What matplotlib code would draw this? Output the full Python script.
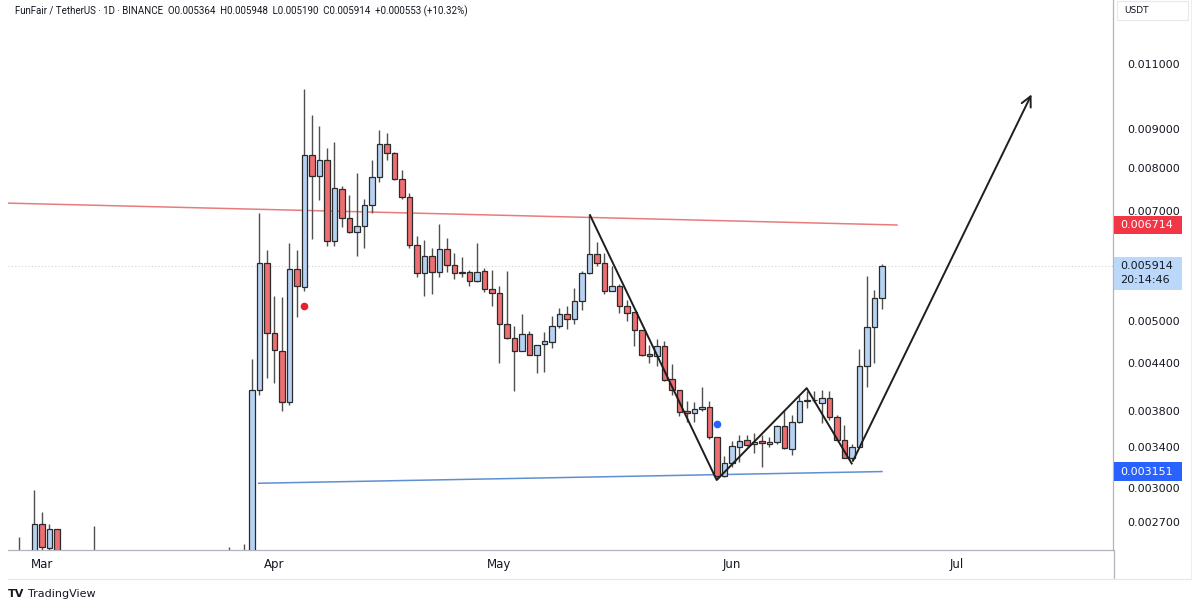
import matplotlib
matplotlib.use("Agg")
import matplotlib.pyplot as plt
from matplotlib.patches import Rectangle
from matplotlib.lines import Line2D
from matplotlib.ticker import NullLocator

# day index counted from 1 March (0 = Mar 1)
days = [-3, -1, 0, 1, 2, 7, 25, 27] + list(range(28, 113))

opens = [0.00230, 0.00220, 0.00268, 0.00249, 0.00264, 0.00220, 0.00220, 0.00225,
         # Mar 29 .. Apr 28
         0.00230, 0.00405, 0.00598, 0.00482, 0.00456, 0.00390, 0.00586, 0.00555,
         0.00833, 0.00780, 0.00820, 0.00640, 0.00750, 0.00687, 0.00657, 0.00670,
         0.00713, 0.00777, 0.00860, 0.00837, 0.00773, 0.00732, 0.00632, 0.00580,
         0.00610, 0.00582, 0.00624, 0.00594, 0.00581, 0.00581, 0.00565,
         # Apr 29 .. May 28
         0.00583, 0.00552, 0.00545, 0.00496, 0.00475, 0.00456, 0.00480, 0.00450,
         0.00466, 0.00469, 0.00493, 0.00511, 0.00503, 0.00532, 0.00579, 0.00615,
         0.00598, 0.00549, 0.00556, 0.00523, 0.00514, 0.00487, 0.00452, 0.00449,
         0.00463, 0.00418, 0.00405, 0.00380, 0.00377, 0.00382,
         # May 29 .. Jun 21
         0.00384, 0.00350, 0.00311, 0.00323, 0.00340, 0.00347, 0.00343, 0.00346,
         0.00343, 0.00345, 0.00362, 0.00338, 0.00367, 0.00391, 0.00393, 0.00389,
         0.00395, 0.00372, 0.00347, 0.00328, 0.00340, 0.00435, 0.00491, 0.005364]

highs = [0.00258, 0.00298, 0.00278, 0.00268, 0.00264, 0.00267, 0.00250, 0.00252,
         0.00445, 0.00697, 0.00621, 0.00540, 0.00538, 0.00635, 0.00622, 0.01020,
         0.00940, 0.00910, 0.00850, 0.00865, 0.00756, 0.00736, 0.00788, 0.00728,
         0.00820, 0.00899, 0.00890, 0.00840, 0.00795, 0.00740, 0.00650, 0.00642,
         0.00625, 0.00673, 0.00645, 0.00616, 0.00609, 0.00585, 0.00635,
         0.00588, 0.00584, 0.00556, 0.00583, 0.00492, 0.00511, 0.00485, 0.00465,
         0.00484, 0.00508, 0.00520, 0.00523, 0.00554, 0.00583, 0.00693, 0.00638,
         0.00616, 0.00592, 0.00560, 0.00534, 0.00514, 0.00487, 0.00465, 0.00473,
         0.00470, 0.00438, 0.00405, 0.00391, 0.00390, 0.00408,
         0.00391, 0.00350, 0.00330, 0.00346, 0.00352, 0.00352, 0.00355, 0.00352,
         0.00350, 0.00363, 0.00379, 0.00375, 0.00397, 0.00403, 0.00403, 0.00405,
         0.00404, 0.00375, 0.00364, 0.00343, 0.00459, 0.00574, 0.00550, 0.005948]

lows = [0.00210, 0.00210, 0.00240, 0.00240, 0.00230, 0.00200, 0.00210, 0.00210,
        0.00220, 0.00398, 0.00420, 0.00413, 0.00380, 0.00387, 0.00507, 0.00548,
        0.00643, 0.00724, 0.00630, 0.00630, 0.00668, 0.00656, 0.00610, 0.00625,
        0.00696, 0.00765, 0.00820, 0.00770, 0.00728, 0.00625, 0.00573, 0.00540,
        0.00544, 0.00573, 0.00582, 0.00569, 0.00573, 0.00556, 0.00563,
        0.00547, 0.00523, 0.00439, 0.00473, 0.00403, 0.00456, 0.00450, 0.00427,
        0.00428, 0.00460, 0.00490, 0.00488, 0.00496, 0.00518, 0.00577, 0.00592,
        0.00543, 0.00549, 0.00513, 0.00500, 0.00463, 0.00449, 0.00440, 0.00436,
        0.00416, 0.00398, 0.00374, 0.00367, 0.00367, 0.00379,
        0.00348, 0.00308, 0.00310, 0.00320, 0.00324, 0.00341, 0.00334, 0.00320,
        0.00340, 0.00343, 0.00338, 0.00332, 0.00366, 0.00383, 0.00390, 0.00366,
        0.00369, 0.00347, 0.00328, 0.00326, 0.00340, 0.00409, 0.00440, 0.005190]

closes = [0.00220, 0.00268, 0.00250, 0.00264, 0.00240, 0.00215, 0.00225, 0.00230,
          0.00405, 0.00598, 0.00482, 0.00457, 0.00390, 0.00586, 0.00556, 0.00833,
          0.00780, 0.00820, 0.00640, 0.00752, 0.00687, 0.00657, 0.00670, 0.00713,
          0.00777, 0.00860, 0.00837, 0.00773, 0.00732, 0.00632, 0.00580, 0.00610,
          0.00582, 0.00624, 0.00594, 0.00580, 0.00580, 0.00565, 0.00582,
          0.00552, 0.00545, 0.00496, 0.00475, 0.00456, 0.00480, 0.00450, 0.00465,
          0.00470, 0.00493, 0.00511, 0.00503, 0.00531, 0.00579, 0.00615, 0.00597,
          0.00549, 0.00556, 0.00523, 0.00513, 0.00486, 0.00451, 0.00449, 0.00463,
          0.00417, 0.00405, 0.00378, 0.00377, 0.00382, 0.00384,
          0.00350, 0.00311, 0.00323, 0.00341, 0.00346, 0.00342, 0.00345, 0.00344,
          0.00345, 0.00362, 0.00339, 0.00367, 0.00391, 0.00393, 0.00392, 0.00395,
          0.00372, 0.00347, 0.00328, 0.00340, 0.00435, 0.00491, 0.00536, 0.005914]

# drawings
resist_days = [-4.53, 114.0]
resist_prices = [0.00718, 0.006714]
support_days = [28.9, 112.0]
support_prices = [0.00304, 0.003151]
zigzag_days = [73.07, 89.96, 101.96, 107.96]
zigzag_prices = [0.00692, 0.00307, 0.00407, 0.00323]
target_day, target_price = 132.1, 0.0101
signal_days = [35, 90]
signal_prices = [0.00524, 0.00365]
signal_colors = ['#e8202a', '#2962ff']
last_price = 0.005914

month_days = [0, 31, 61, 92, 122]
month_labels = ['Mar', 'Apr', 'May', 'Jun', 'Jul']
price_ticks = [0.0027, 0.003, 0.0034, 0.0038, 0.0044, 0.005, 0.007, 0.008, 0.009, 0.011]

W, H = 1200, 608
fig = plt.figure(figsize=(W / 100, H / 100), dpi=100)
fig.patch.set_facecolor('white')
ax = fig.add_axes([8 / W, 58 / H, 1105 / W, 550 / H])
ax.set_yscale('log')
ax.set_xlim(-4.53, 142.8)
ax.set_ylim(0.002477, 0.01339)

up_face, down_face = '#b7d3f3', '#ee6e72'
edge = '#2b2b2b'
wick = '#505050'

# trend lines behind candles
ax.plot(resist_days, resist_prices, color='#e77c7c', lw=1.1, zorder=1)
ax.plot(support_days, support_prices, color='#5f8fd3', lw=1.1, zorder=1)
ax.axhline(last_price, color='#cfd3da', lw=0.8, ls=(0, (1, 2)), zorder=0.5)

for d, o, h, l, c in zip(days, opens, highs, lows, closes):
    face = up_face if c >= o else down_face
    ax.vlines(d, l, h, color=wick, lw=1.0, zorder=2)
    lo, hi = min(o, c), max(o, c)
    if hi - lo < 1e-6:
        hi = lo * 1.002
    ax.bar(d, hi - lo, bottom=lo, width=0.7, color=face, edgecolor=edge,
           linewidth=0.9, zorder=3)

for d, p, col in zip(signal_days, signal_prices, signal_colors):
    ax.plot(d, p, marker='o', ms=4.5, color=col, mec=col, zorder=4)

# zigzag projection
ax.plot(zigzag_days, zigzag_prices, color='#1e1e1e', lw=1.4, zorder=5)
ax.annotate('', xy=(target_day, target_price), xytext=(zigzag_days[-1], zigzag_prices[-1]),
            arrowprops=dict(arrowstyle='->', color='#1e1e1e', lw=1.4, mutation_scale=18),
            zorder=5)

# axes styling
ax.yaxis.tick_right()
ax.set_yticks(price_ticks)
ax.set_yticklabels([f'{t:.6f}' for t in price_ticks])
ax.yaxis.set_minor_locator(NullLocator())
ax.tick_params(axis='y', length=0, pad=10, labelsize=8, labelcolor='#131722')
ax.set_xticks(month_days)
ax.set_xticklabels(month_labels)
ax.tick_params(axis='x', length=0, pad=6, labelsize=8.5, labelcolor='#131722')
for s in ['top', 'left']:
    ax.spines[s].set_visible(False)
for s in ['bottom', 'right']:
    ax.spines[s].set_color('#b2b5be')
    ax.spines[s].set_linewidth(0.9)


def fx(x):
    return x / W


def fy(y):
    return 1 - y / H


# frame lines outside the plot
fig.add_artist(Line2D([fx(1113.5), fx(1113.5)], [fy(550), fy(578)], color='#b2b5be', lw=0.9))
fig.add_artist(Line2D([fx(8), fx(1191)], [fy(578.5), fy(578.5)], color='#e6e8ee', lw=0.9))
fig.add_artist(Line2D([fx(1191), fx(1191)], [fy(0), fy(578.5)], color='#eceef2', lw=0.8))

# currency box
fig.add_artist(Rectangle((fx(1117), fy(20)), 71 / W, 19 / H, transform=fig.transFigure,
                         facecolor='white', edgecolor='#e6e8ee', lw=0.8))
fig.text(fx(1124), fy(10.5), 'USDT', fontsize=6.5, color='#131722', va='center')


def price_y(p):
    # pixel row (from top) of a price
    return H - ax.transData.transform((0, p))[1]


def price_tag(p, lines, face, txt, above, height):
    y = price_y(p)
    top = y - above
    fig.add_artist(Rectangle((fx(1114), fy(top + height)), 68 / W, height / H,
                             transform=fig.transFigure, facecolor=face, edgecolor='none',
                             zorder=10))
    for i, s in enumerate(lines):
        fig.text(fx(1120), fy(y + 14 * i), s, fontsize=8, color=txt, va='center',
                 zorder=11)


price_tag(resist_prices[-1], ['0.006714'], '#f23645', 'white', 9.3, 18.6)
price_tag(last_price, ['0.005914', '20:14:46'], '#bbd8fa', '#131722', 9.5, 33.3)
price_tag(support_prices[-1], ['0.003151'], '#2962ff', 'white', 9.6, 19)

fig.text(fx(15), fy(11), 'FunFair / TetherUS · 1D · BINANCE  O0.005364  H0.005948  '
         'L0.005190  C0.005914  +0.000553 (+10.32%)', fontsize=7.05,
         family=['Roboto', 'DejaVu Sans'], color='#131722', va='center')

fig.text(fx(8), fy(594), 'TV', fontsize=8, fontweight='heavy', color='#131722', va='center')
fig.text(fx(28), fy(594), 'TradingView', fontsize=8, color='#131722', va='center')

fig.savefig('out.png', dpi=100)
